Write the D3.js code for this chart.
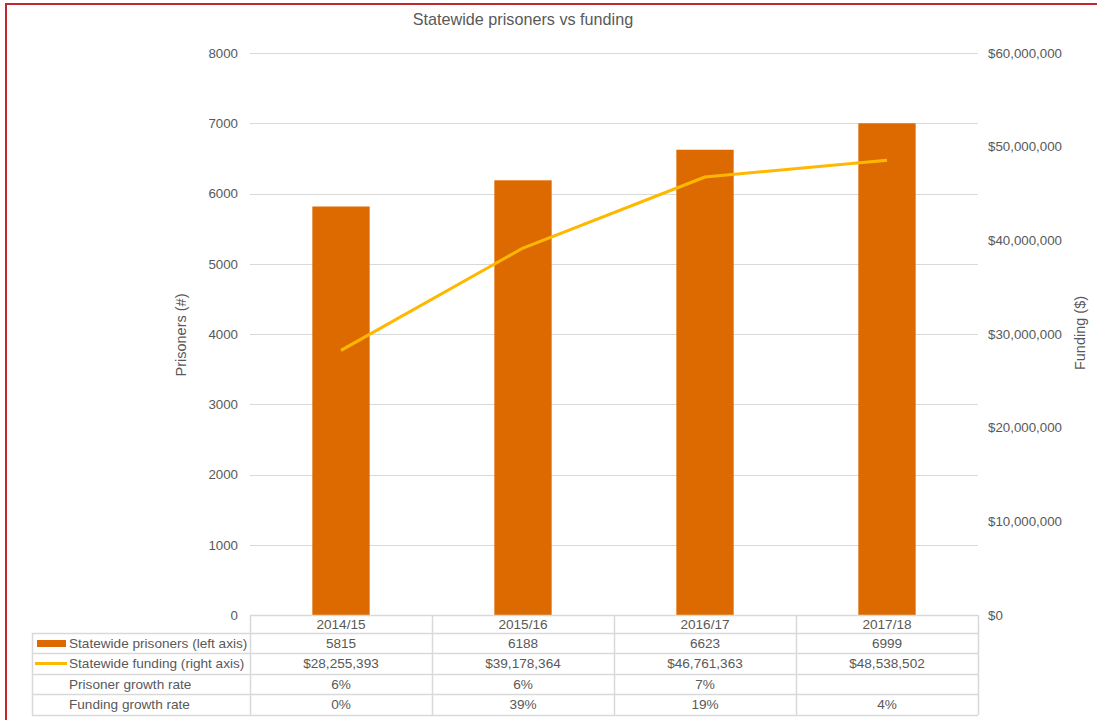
<!DOCTYPE html>
<html>
<head>
<meta charset="utf-8">
<script src="https://cdn.jsdelivr.net/npm/d3@7"></script>
<style>
  html, body { margin: 0; padding: 0; background: #fff; }
  svg { display: block; font-family: "Liberation Sans", Arial, sans-serif; }
</style>
</head>
<body>
<svg id="chart" width="1097" height="720"></svg>
<script>
// Financial years shown on the x axis and in the data table
const years = ["2014/15", "2015/16", "2016/17", "2017/18"];
// Prisoner counts (left axis, bars)
const prisoners = [5815, 6188, 6623, 6999];
// Funding in dollars (right axis, line)
const funding = [28255393, 39178364, 46761363, 48538502];
// Growth rates printed in the table rows
const prisonerGrowth = ["6%", "6%", "7%", ""];
const fundingGrowth = ["0%", "39%", "19%", "4%"];
// Axis ticks
const leftTicks = [0, 1000, 2000, 3000, 4000, 5000, 6000, 7000, 8000];
const rightTicks = [0, 10000000, 20000000, 30000000, 40000000, 50000000, 60000000];

const svg = d3.select("#chart");
const textColor = "#595959";
const gridColor = "#D9D9D9";
const barColor = "#DD6A00";
const lineColor = "#FFB800";

const plot = { left: 250, right: 978, top: 53, bottom: 615 };

// outer frame
svg.append("rect")
  .attr("x", 6).attr("y", 4)
  .attr("width", 1200).attr("height", 800)
  .attr("fill", "none").attr("stroke", "#C0282D").attr("stroke-width", 2);

const x = d3.scaleBand().domain(years).range([plot.left, plot.right]).padding(0);
const yL = d3.scaleLinear().domain([0, 8000]).range([plot.bottom, plot.top]);
const yR = d3.scaleLinear().domain([0, 60000000]).range([plot.bottom, plot.top]);

// title
svg.append("text")
  .attr("x", 523).attr("y", 25)
  .attr("text-anchor", "middle")
  .attr("font-size", 16.2).attr("fill", textColor)
  .text("Statewide prisoners vs funding");

// gridlines
svg.append("g").selectAll("line").data(leftTicks.filter(d => d > 0)).join("line")
  .attr("x1", plot.left).attr("x2", plot.right)
  .attr("y1", d => Math.round(yL(d)) + 0.5).attr("y2", d => Math.round(yL(d)) + 0.5)
  .attr("stroke", gridColor).attr("stroke-width", 1);

// left axis
const leftAxis = svg.append("g")
  .attr("transform", `translate(${plot.left - 12},0)`)
  .call(d3.axisLeft(yL).tickValues(leftTicks).tickSize(0).tickPadding(0).tickFormat(d3.format("d")));
leftAxis.select(".domain").remove();
leftAxis.selectAll("text").attr("font-size", 13.3).attr("fill", textColor)
  .attr("font-family", "Liberation Sans, Arial, sans-serif");

// right axis
const rightAxis = svg.append("g")
  .attr("transform", `translate(${plot.right + 10},0)`)
  .call(d3.axisRight(yR).tickValues(rightTicks).tickSize(0).tickPadding(0)
    .tickFormat(d => "$" + d3.format(",")(d)));
rightAxis.select(".domain").remove();
rightAxis.selectAll("text").attr("font-size", 13.3).attr("fill", textColor)
  .attr("font-family", "Liberation Sans, Arial, sans-serif");

// axis titles
svg.append("text")
  .attr("transform", `translate(186,335) rotate(-90)`)
  .attr("text-anchor", "middle").attr("font-size", 14.5).attr("fill", textColor)
  .text("Prisoners (#)");
svg.append("text")
  .attr("transform", `translate(1085,333) rotate(-90)`)
  .attr("text-anchor", "middle").attr("font-size", 14.5).attr("fill", textColor)
  .text("Funding ($)");

// bars
const barW = x.bandwidth() * 0.315;
svg.append("g").selectAll("rect").data(years).join("rect")
  .attr("x", (d) => x(d) + x.bandwidth() / 2 - barW / 2)
  .attr("width", barW)
  .attr("y", (d, i) => yL(prisoners[i]))
  .attr("height", (d, i) => yL(0) - yL(prisoners[i]))
  .attr("fill", barColor);

// funding line
const line = d3.line()
  .x((d, i) => x(years[i]) + x.bandwidth() / 2)
  .y(d => yR(d));
svg.append("path")
  .datum(funding)
  .attr("d", line)
  .attr("fill", "none")
  .attr("stroke", lineColor)
  .attr("stroke-width", 3)
  .attr("stroke-linejoin", "round");

// data table
const tableLeft = 32;
const rowEdges = [615, 633, 653, 674, 694, 715];
const table = svg.append("g");

// horizontal lines
table.selectAll("line.h").data(rowEdges).join("line")
  .attr("class", "h")
  .attr("x1", (d, i) => i === 0 ? plot.left : tableLeft)
  .attr("x2", plot.right)
  .attr("y1", d => d + 0.5).attr("y2", d => d + 0.5)
  .attr("stroke", gridColor).attr("stroke-width", 1.5);

// vertical lines
const colEdges = years.map(y => x(y)).concat([plot.right]);
table.selectAll("line.v").data(colEdges).join("line")
  .attr("class", "v")
  .attr("x1", d => d + 0.5).attr("x2", d => d + 0.5)
  .attr("y1", rowEdges[0]).attr("y2", rowEdges[5])
  .attr("stroke", gridColor).attr("stroke-width", 1.5);
table.append("line")
  .attr("x1", tableLeft + 0.5).attr("x2", tableLeft + 0.5)
  .attr("y1", rowEdges[1]).attr("y2", rowEdges[5])
  .attr("stroke", gridColor).attr("stroke-width", 1.5);

const rows = [
  { label: null, values: years },
  { label: "Statewide prisoners (left axis)", values: prisoners.map(String) },
  { label: "Statewide funding (right axis)", values: funding.map(d => "$" + d3.format(",")(d)) },
  { label: "Prisoner growth rate", values: prisonerGrowth },
  { label: "Funding growth rate", values: fundingGrowth }
];

rows.forEach((r, ri) => {
  const yMid = (rowEdges[ri] + rowEdges[ri + 1]) / 2 + 4.8;
  if (r.label) {
    table.append("text")
      .attr("x", 69).attr("y", yMid)
      .attr("font-size", 13.6).attr("fill", textColor)
      .text(r.label);
  }
  table.selectAll(null).data(r.values).join("text")
    .attr("x", (d, i) => x(years[i]) + x.bandwidth() / 2)
    .attr("y", yMid)
    .attr("text-anchor", "middle")
    .attr("font-size", 13.6).attr("fill", textColor)
    .text(d => d);
});

// legend keys inside the table
table.append("rect")
  .attr("x", 37).attr("y", 640).attr("width", 29).attr("height", 7)
  .attr("fill", barColor);
table.append("line")
  .attr("x1", 35).attr("x2", 67).attr("y1", 663.5).attr("y2", 663.5)
  .attr("stroke", lineColor).attr("stroke-width", 3);
</script>
</body>
</html>
